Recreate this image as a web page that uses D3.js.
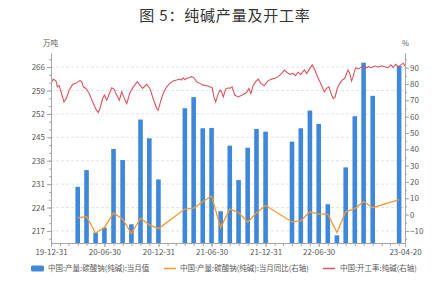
<!DOCTYPE html>
<html><head><meta charset="utf-8">
<script src="https://cdn.jsdelivr.net/npm/d3@7/dist/d3.min.js"></script>
<style>
html,body{margin:0;padding:0;background:#fff;}
svg{display:block;font-family:"Noto Sans CJK SC","Noto Sans",sans-serif;}
</style></head>
<body>
<svg id="c" width="441" height="286"></svg>
<script>
// ---- data ----
const prodMonths = ["2020-03","2020-04","2020-05","2020-06","2020-07","2020-08","2020-09","2020-10","2020-11","2020-12",
  "2021-03","2021-04","2021-05","2021-06","2021-07","2021-08","2021-09","2021-10","2021-11","2021-12",
  "2022-03","2022-04","2022-05","2022-06","2022-07","2022-08","2022-09","2022-10","2022-11","2022-12",
  "2023-03"];
const prodValues = [230.2,235.2,216.5,218.0,241.5,238.2,219.0,250.3,244.7,232.4,
  253.7,257.0,247.7,247.8,222.9,242.5,232.2,241.9,247.5,246.7,
  243.7,247.7,253.0,249.0,225.0,215.7,236.0,251.3,267.3,257.4,
  266.3];
const yoyValues = [-2.0,-1.2,-11.4,-8.0,1.0,-2.8,-11.6,-2.2,-6.3,-8.6,
  3.4,4.0,7.9,11.4,-8.0,3.4,1.3,-4.5,1.0,5.6,
  -4.5,-3.8,1.7,0.3,0.3,-11.0,1.7,3.7,8.0,4.2,
  9.1];
const rateDates = ["2020-01-03","2020-01-08","2020-01-17","2020-01-22","2020-01-28","2020-02-05","2020-02-13","2020-02-22","2020-03-02","2020-03-14",
  "2020-03-25","2020-04-08","2020-04-14","2020-04-19","2020-04-28","2020-05-09","2020-05-21","2020-06-01","2020-06-09","2020-06-15",
  "2020-06-24","2020-06-30","2020-07-08","2020-07-17","2020-07-25","2020-08-02","2020-08-11","2020-08-20","2020-08-28","2020-09-05",
  "2020-09-14","2020-09-25","2020-10-06","2020-10-20","2020-10-29","2020-11-07","2020-11-21","2020-12-02","2020-12-13","2020-12-25",
  "2020-12-30","2021-01-07","2021-01-16","2021-01-28","2021-02-08","2021-02-19","2021-03-03","2021-03-14","2021-03-20","2021-03-25",
  "2021-03-31","2021-04-06","2021-04-15","2021-04-23","2021-05-01","2021-05-10","2021-05-21","2021-06-01","2021-06-13","2021-06-24",
  "2021-07-02","2021-07-08","2021-07-14","2021-07-21","2021-07-29","2021-08-03","2021-08-09","2021-08-17","2021-08-26","2021-08-31",
  "2021-09-08","2021-09-17","2021-09-29","2021-10-16","2021-10-27","2021-11-04","2021-11-11","2021-11-19","2021-11-27","2021-12-06",
  "2021-12-15","2021-12-26","2022-01-07","2022-01-20","2022-02-01","2022-02-12","2022-02-24","2022-03-05","2022-03-13","2022-03-24",
  "2022-04-04","2022-04-12","2022-04-21","2022-04-30","2022-05-12","2022-05-20","2022-05-31","2022-06-08","2022-06-17","2022-06-26",
  "2022-07-04","2022-07-12","2022-07-19","2022-07-27","2022-08-04","2022-08-11","2022-08-19","2022-08-25","2022-09-01","2022-09-10",
  "2022-09-18","2022-09-27","2022-10-03","2022-10-08","2022-10-14","2022-10-20","2022-10-25","2022-11-03","2022-11-12","2022-11-23",
  "2022-12-04","2022-12-16","2022-12-27","2023-01-07","2023-01-19","2023-01-30","2023-02-10","2023-02-21","2023-03-03","2023-03-11",
  "2023-03-19","2023-03-28","2023-04-06","2023-04-14","2023-04-20"];
const rateValues = [81.4,83.0,81.8,78.3,79.0,74.2,69.0,71.5,76.3,79.8,
  80.4,82.2,81.4,78.3,77.3,74.2,69.0,64.6,62.5,65.0,
  71.1,73.2,70.1,74.2,77.7,76.9,73.2,70.1,75.2,71.5,
  68.0,74.8,78.1,81.4,79.3,77.3,79.8,77.3,71.1,65.0,
  63.9,69.0,74.2,78.3,80.4,81.8,82.4,83.0,82.4,83.8,
  82.6,83.5,83.8,84.5,83.8,81.4,80.4,79.3,78.9,78.3,
  77.7,72.1,69.0,73.2,76.3,75.2,72.1,76.9,77.7,77.3,
  78.3,73.2,72.1,73.6,74.8,77.3,74.2,79.3,81.4,83.0,
  80.4,78.9,81.8,83.0,83.5,84.5,86.5,88.6,87.2,85.9,
  86.5,85.1,87.2,85.9,88.6,86.5,89.6,91.7,88.6,84.5,
  81.4,78.3,75.2,77.3,78.3,74.2,71.1,72.1,77.3,80.4,
  82.4,83.5,86.5,88.6,86.5,81.8,84.5,90.0,89.2,90.4,
  89.6,90.6,90.0,91.0,90.4,91.2,90.6,90.0,91.7,90.0,
  92.1,90.6,91.7,92.7,91.0];
const xTickDates = ["2019-12-31","2020-06-30","2020-12-31","2021-06-30","2021-12-31","2022-06-30","2023-04-20"];
const leftTicks = [217,224,231,238,245,252,259,266];
const rightTicks = [-10,0,10,20,30,40,50,60,70,80,90];
const legendLabels = ["中国:产量:碳酸钠(纯碱):当月值","中国:产量:碳酸钠(纯碱):当月同比(右轴)","中国:开工率:纯碱(右轴)"];
const titleText = "图 5：纯碱产量及开工率";

// ---- layout ----
const parse = d3.timeParse("%Y-%m-%d");
const monthEnd = m => { const [y,mo] = m.split("-").map(Number); return new Date(y, mo, 0); };
const L = 51, R = 405, T = 53, B = 243;
const svg = d3.select("#c");
const x = d3.scaleTime().domain([parse("2019-12-31"), parse("2023-04-20")]).range([L, R]);
const yL = d3.scaleLinear().domain([213.4, 270.2]).range([B, T]);
const yR = d3.scaleLinear().domain([-17.4, 99]).range([B, T]);
const axisCol = "#a6a6a6", textCol = "#595959";

svg.append("text").attr("x", 225).attr("y", 21).attr("text-anchor","middle")
  .attr("font-size", 15).attr("fill", "#333").attr("letter-spacing", 0.8).text(titleText);

// gridlines
svg.append("g").selectAll("line").data(leftTicks).join("line")
  .attr("x1", L).attr("x2", R).attr("y1", d => yL(d)).attr("y2", d => yL(d))
  .attr("stroke", "#dcdcdc").attr("stroke-width", 0.8).attr("stroke-dasharray", "3,2");

// bars
const bw = 4.6;
svg.append("g").selectAll("rect").data(prodMonths).join("rect")
  .attr("x", (m) => x(monthEnd(m)) - bw/2)
  .attr("width", bw)
  .attr("y", (m,i) => yL(prodValues[i]))
  .attr("height", (m,i) => B - yL(prodValues[i]))
  .attr("fill", "#3f87d9");

// yoy line
svg.append("path").datum(prodMonths)
  .attr("fill","none").attr("stroke","#f39a2e").attr("stroke-width",1.3)
  .attr("d", d3.line().x(m => x(monthEnd(m))).y((m,i) => yR(yoyValues[i])));

// rate line
svg.append("path").datum(rateDates)
  .attr("fill","none").attr("stroke","#d9545e").attr("stroke-width",1.1)
  .attr("d", d3.line().x(d => x(parse(d))).y((d,i) => yR(rateValues[i])));

function styleAxis(g){
  g.selectAll(".domain").attr("stroke", axisCol);
  g.selectAll(".tick line").attr("stroke", axisCol);
  g.selectAll(".tick text").attr("fill", textCol).attr("font-size", 8)
    .attr("font-family", '"Noto Sans CJK SC","Noto Sans",sans-serif');
}

// left axis
const leftMinor = d3.range(213.4 + 0.0001, 270.2, 7/3).length ? [] : [];
const lMinor = [];
for (let v = 217 - 7/3; v < 270.2; v += 7/3) if (v > 213.4) lMinor.push(v);
svg.append("g").attr("transform", `translate(${L},0)`)
  .call(d3.axisLeft(yL).tickValues(lMinor).tickSize(2).tickFormat("").tickSizeOuter(0)).call(styleAxis);
svg.append("g").attr("transform", `translate(${L},0)`)
  .call(d3.axisLeft(yL).tickValues(leftTicks).tickSize(4).tickPadding(2).tickSizeOuter(0)).call(styleAxis);

// right axis
const rMinor = [];
for (let v = -15; v < 99; v += 5) rMinor.push(v);
svg.append("g").attr("transform", `translate(${R},0)`)
  .call(d3.axisRight(yR).tickValues(rMinor).tickSize(2).tickFormat("").tickSizeOuter(0)).call(styleAxis);
svg.append("g").attr("transform", `translate(${R},0)`)
  .call(d3.axisRight(yR).tickValues(rightTicks).tickSize(4).tickPadding(1).tickSizeOuter(0)).call(styleAxis);

// bottom axis
const months = d3.timeMonth.range(parse("2020-01-01"), parse("2023-04-20")).map(d => d3.timeDay.offset(d, -1));
svg.append("g").attr("transform", `translate(0,${B})`)
  .call(d3.axisBottom(x).tickValues(months).tickSize(3).tickFormat("").tickSizeOuter(0)).call(styleAxis);
svg.append("g").attr("transform", `translate(0,${B})`)
  .call(d3.axisBottom(x).tickValues(xTickDates.map(parse)).tickSize(4).tickPadding(2)
    .tickFormat(d3.timeFormat("%y-%m-%d")).tickSizeOuter(0)).call(styleAxis);

// units
svg.append("text").attr("x", 43).attr("y", 46).attr("font-size", 7.5).attr("fill", textCol).text("万吨");
svg.append("text").attr("x", 402).attr("y", 46).attr("font-size", 7.5).attr("fill", textCol).text("%");

// legend
const lg = svg.append("g").attr("font-size", 7.5).attr("fill", textCol);
lg.append("rect").attr("x", 31).attr("y", 265.5).attr("width", 13).attr("height", 6).attr("rx", 1.5).attr("fill", "#3f87d9");
lg.append("text").attr("x", 48).attr("y", 271).text(legendLabels[0]);
lg.append("line").attr("x1", 164).attr("x2", 176).attr("y1", 268.5).attr("y2", 268.5).attr("stroke", "#f39a2e").attr("stroke-width", 1.5);
lg.append("text").attr("x", 180).attr("y", 271).text(legendLabels[1]);
lg.append("line").attr("x1", 323).attr("x2", 335).attr("y1", 268.5).attr("y2", 268.5).attr("stroke", "#d9545e").attr("stroke-width", 1.5);
lg.append("text").attr("x", 340).attr("y", 271).text(legendLabels[2]);
</script>
</body></html>
